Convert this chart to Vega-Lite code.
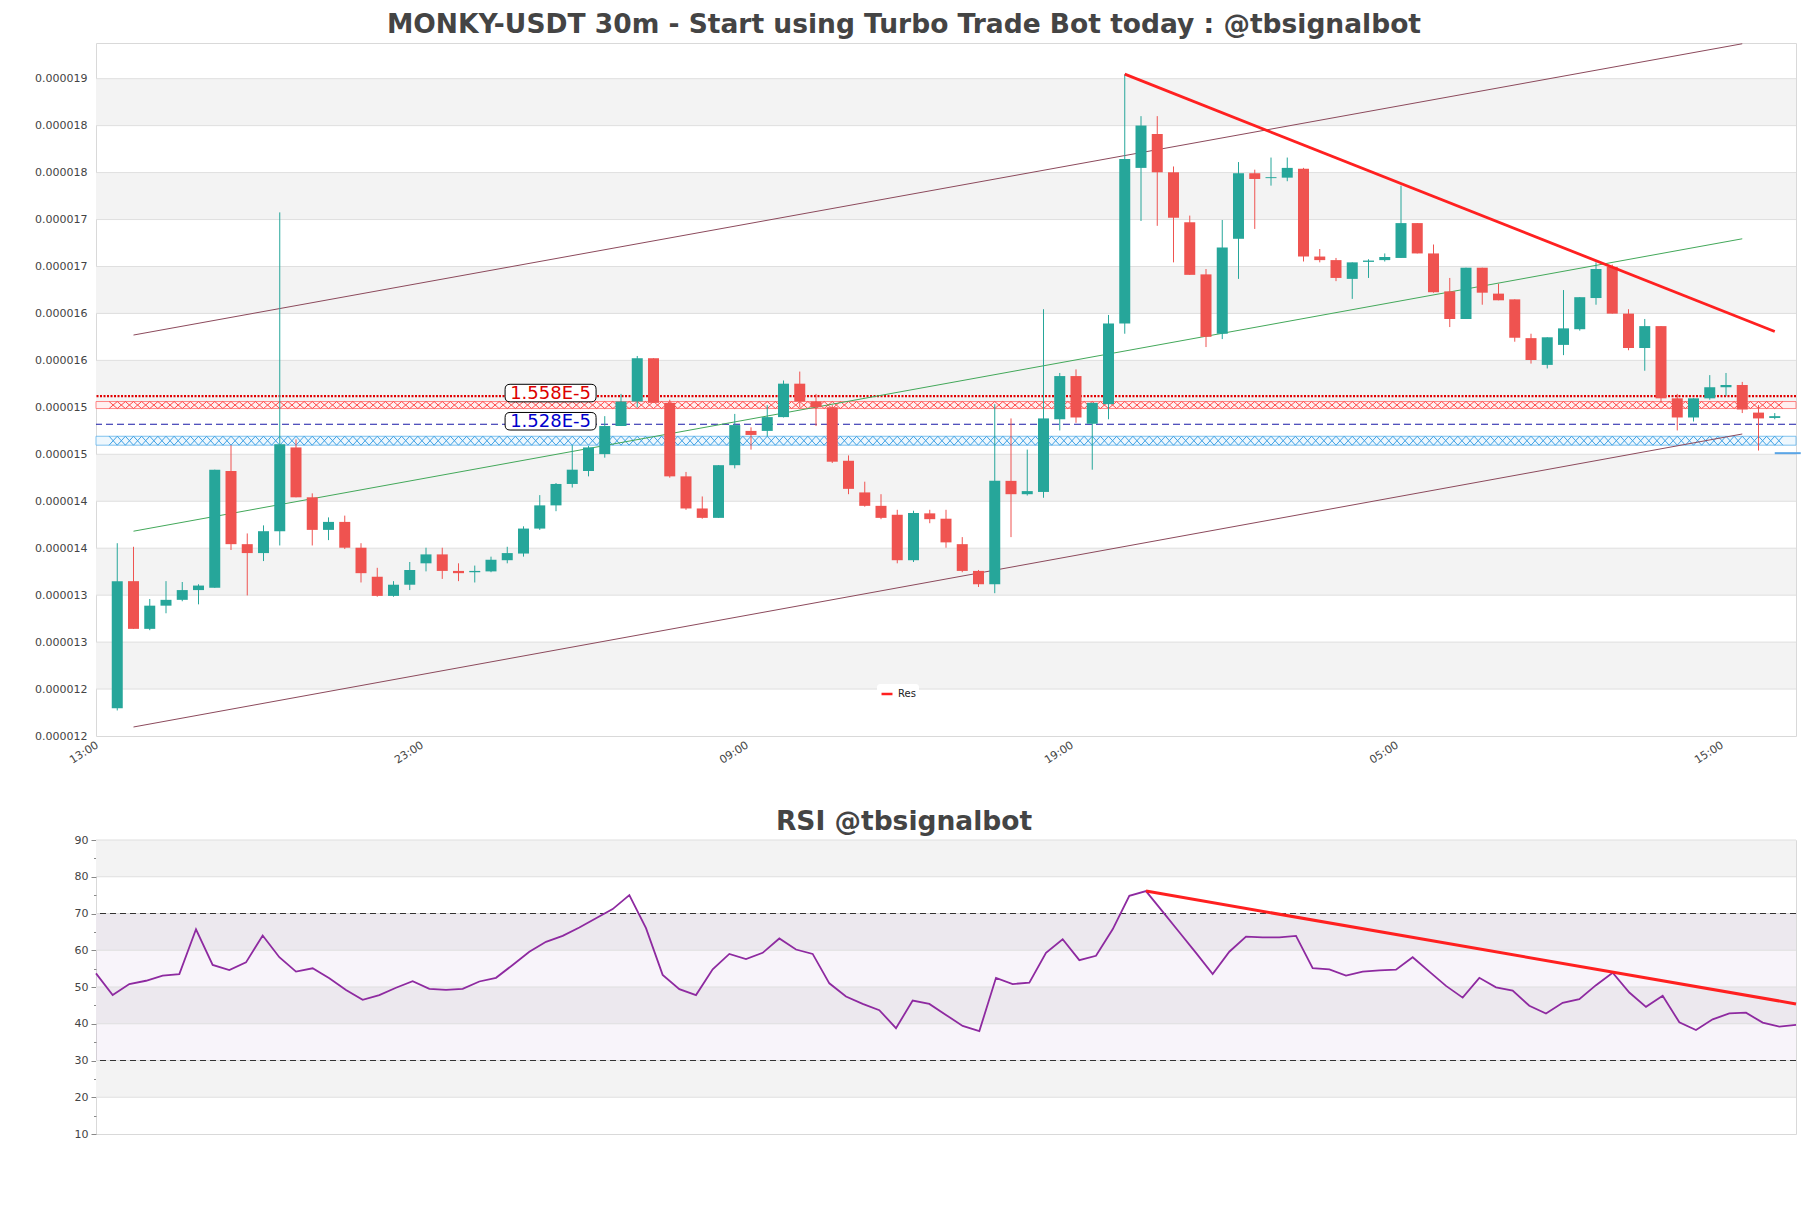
{
"$schema": "https://vega.github.io/schema/vega-lite/v6.json",
"padding": {"left": 33, "top": 11, "right": 4, "bottom": 4},
"spacing": 42,
"config": {
  "font": "DejaVu Sans",
  "view": {"stroke": "#d9d9d9"},
  "axis": {"labelFont": "DejaVu Sans", "labelColor": "#444444", "domain": false, "grid": false, "title": null},
  "title": {"font": "DejaVu Sans", "fontSize": 26.5, "fontWeight": "bold", "color": "#444444", "anchor": "middle", "dx": -42, "offset": 3.5}
},
"datasets": {
  "candles": [
    {"t":"2024-03-04T13:30","o":1.2256e-5,"h":1.4013e-5,"l":1.2232e-5,"c":1.3609e-5,"rsi":53.7},
    {"t":"2024-03-04T14:00","o":1.3609e-5,"h":1.3975e-5,"l":1.3101e-5,"c":1.3101e-5,"rsi":47.8},
    {"t":"2024-03-04T14:30","o":1.3101e-5,"h":1.3419e-5,"l":1.3087e-5,"c":1.3348e-5,"rsi":50.8},
    {"t":"2024-03-04T15:00","o":1.3348e-5,"h":1.3609e-5,"l":1.3267e-5,"c":1.3410e-5,"rsi":51.7},
    {"t":"2024-03-04T15:30","o":1.3410e-5,"h":1.3600e-5,"l":1.3395e-5,"c":1.3514e-5,"rsi":53.1},
    {"t":"2024-03-04T16:00","o":1.3514e-5,"h":1.3576e-5,"l":1.3362e-5,"c":1.3562e-5,"rsi":53.5},
    {"t":"2024-03-04T16:30","o":1.3538e-5,"h":1.4796e-5,"l":1.3538e-5,"c":1.4796e-5,"rsi":65.7},
    {"t":"2024-03-04T17:00","o":1.4782e-5,"h":1.5057e-5,"l":1.3941e-5,"c":1.4003e-5,"rsi":56.0},
    {"t":"2024-03-04T17:30","o":1.4003e-5,"h":1.4117e-5,"l":1.3457e-5,"c":1.3908e-5,"rsi":54.6},
    {"t":"2024-03-04T18:00","o":1.3908e-5,"h":1.4203e-5,"l":1.3823e-5,"c":1.4141e-5,"rsi":56.7},
    {"t":"2024-03-04T18:30","o":1.4141e-5,"h":1.7536e-5,"l":1.3989e-5,"c":1.5067e-5,"rsi":64.0},
    {"t":"2024-03-04T19:00","o":1.5033e-5,"h":1.5119e-5,"l":1.4502e-5,"c":1.4502e-5,"rsi":58.1},
    {"t":"2024-03-04T19:30","o":1.4502e-5,"h":1.4544e-5,"l":1.3989e-5,"c":1.4155e-5,"rsi":54.2},
    {"t":"2024-03-04T20:00","o":1.4155e-5,"h":1.4288e-5,"l":1.4046e-5,"c":1.4240e-5,"rsi":55.1},
    {"t":"2024-03-04T20:30","o":1.4240e-5,"h":1.4307e-5,"l":1.3951e-5,"c":1.3965e-5,"rsi":52.4},
    {"t":"2024-03-04T21:00","o":1.3965e-5,"h":1.4013e-5,"l":1.3595e-5,"c":1.3694e-5,"rsi":49.2},
    {"t":"2024-03-04T21:30","o":1.3656e-5,"h":1.3751e-5,"l":1.3443e-5,"c":1.3452e-5,"rsi":46.5},
    {"t":"2024-03-04T22:00","o":1.3452e-5,"h":1.3609e-5,"l":1.3443e-5,"c":1.3571e-5,"rsi":47.8},
    {"t":"2024-03-04T22:30","o":1.3571e-5,"h":1.3813e-5,"l":1.3514e-5,"c":1.3728e-5,"rsi":49.8},
    {"t":"2024-03-04T23:00","o":1.3799e-5,"h":1.3965e-5,"l":1.3713e-5,"c":1.3894e-5,"rsi":51.6},
    {"t":"2024-03-04T23:30","o":1.3894e-5,"h":1.3965e-5,"l":1.3633e-5,"c":1.3718e-5,"rsi":49.5},
    {"t":"2024-03-05T00:00","o":1.3718e-5,"h":1.3799e-5,"l":1.3609e-5,"c":1.3694e-5,"rsi":49.2},
    {"t":"2024-03-05T00:30","o":1.3704e-5,"h":1.3775e-5,"l":1.3595e-5,"c":1.3718e-5,"rsi":49.5},
    {"t":"2024-03-05T01:00","o":1.3713e-5,"h":1.3870e-5,"l":1.3704e-5,"c":1.3837e-5,"rsi":51.5},
    {"t":"2024-03-05T01:30","o":1.3832e-5,"h":1.3975e-5,"l":1.3799e-5,"c":1.3908e-5,"rsi":52.5},
    {"t":"2024-03-05T02:00","o":1.3903e-5,"h":1.4193e-5,"l":1.3870e-5,"c":1.4169e-5,"rsi":56.0},
    {"t":"2024-03-05T02:30","o":1.4169e-5,"h":1.4525e-5,"l":1.4155e-5,"c":1.4416e-5,"rsi":59.6},
    {"t":"2024-03-05T03:00","o":1.4416e-5,"h":1.4654e-5,"l":1.4354e-5,"c":1.4644e-5,"rsi":62.3},
    {"t":"2024-03-05T03:30","o":1.4644e-5,"h":1.5057e-5,"l":1.4606e-5,"c":1.4796e-5,"rsi":63.9},
    {"t":"2024-03-05T04:00","o":1.4782e-5,"h":1.5048e-5,"l":1.4725e-5,"c":1.5033e-5,"rsi":66.2},
    {"t":"2024-03-05T04:30","o":1.4962e-5,"h":1.5366e-5,"l":1.4924e-5,"c":1.5261e-5,"rsi":68.7},
    {"t":"2024-03-05T05:00","o":1.5261e-5,"h":1.5603e-5,"l":1.5261e-5,"c":1.5522e-5,"rsi":71.2},
    {"t":"2024-03-05T05:30","o":1.5522e-5,"h":1.6007e-5,"l":1.5461e-5,"c":1.5983e-5,"rsi":75.0},
    {"t":"2024-03-05T06:00","o":1.5983e-5,"h":1.5983e-5,"l":1.5508e-5,"c":1.5508e-5,"rsi":66.0},
    {"t":"2024-03-05T06:30","o":1.5508e-5,"h":1.5541e-5,"l":1.4711e-5,"c":1.4725e-5,"rsi":53.3},
    {"t":"2024-03-05T07:00","o":1.4725e-5,"h":1.4772e-5,"l":1.4369e-5,"c":1.4383e-5,"rsi":49.4},
    {"t":"2024-03-05T07:30","o":1.4383e-5,"h":1.4511e-5,"l":1.4274e-5,"c":1.4283e-5,"rsi":47.8},
    {"t":"2024-03-05T08:00","o":1.4283e-5,"h":1.4844e-5,"l":1.4283e-5,"c":1.4844e-5,"rsi":54.8},
    {"t":"2024-03-05T08:30","o":1.4844e-5,"h":1.5390e-5,"l":1.4810e-5,"c":1.5271e-5,"rsi":59.0},
    {"t":"2024-03-05T09:00","o":1.5209e-5,"h":1.5247e-5,"l":1.5010e-5,"c":1.5166e-5,"rsi":57.6},
    {"t":"2024-03-05T09:30","o":1.5209e-5,"h":1.5484e-5,"l":1.5152e-5,"c":1.5356e-5,"rsi":59.3},
    {"t":"2024-03-05T10:00","o":1.5356e-5,"h":1.5746e-5,"l":1.5352e-5,"c":1.5712e-5,"rsi":63.2},
    {"t":"2024-03-05T10:30","o":1.5712e-5,"h":1.5841e-5,"l":1.5461e-5,"c":1.5522e-5,"rsi":60.2},
    {"t":"2024-03-05T11:00","o":1.5522e-5,"h":1.5603e-5,"l":1.5261e-5,"c":1.5461e-5,"rsi":59.0},
    {"t":"2024-03-05T11:30","o":1.5461e-5,"h":1.5484e-5,"l":1.4867e-5,"c":1.4881e-5,"rsi":51.0},
    {"t":"2024-03-05T12:00","o":1.4891e-5,"h":1.4948e-5,"l":1.4535e-5,"c":1.4592e-5,"rsi":47.4},
    {"t":"2024-03-05T12:30","o":1.4554e-5,"h":1.4668e-5,"l":1.4402e-5,"c":1.4411e-5,"rsi":45.4},
    {"t":"2024-03-05T13:00","o":1.4411e-5,"h":1.4535e-5,"l":1.4269e-5,"c":1.4283e-5,"rsi":43.7},
    {"t":"2024-03-05T13:30","o":1.4316e-5,"h":1.4369e-5,"l":1.3799e-5,"c":1.3832e-5,"rsi":38.8},
    {"t":"2024-03-05T14:00","o":1.3832e-5,"h":1.4359e-5,"l":1.3813e-5,"c":1.4335e-5,"rsi":46.3},
    {"t":"2024-03-05T14:30","o":1.4331e-5,"h":1.4369e-5,"l":1.4226e-5,"c":1.4269e-5,"rsi":45.4},
    {"t":"2024-03-05T15:00","o":1.4274e-5,"h":1.4369e-5,"l":1.3965e-5,"c":1.4022e-5,"rsi":42.4},
    {"t":"2024-03-05T15:30","o":1.4003e-5,"h":1.4078e-5,"l":1.3704e-5,"c":1.3718e-5,"rsi":39.4},
    {"t":"2024-03-05T16:00","o":1.3718e-5,"h":1.3728e-5,"l":1.3547e-5,"c":1.3576e-5,"rsi":38.0},
    {"t":"2024-03-05T16:30","o":1.3576e-5,"h":1.5494e-5,"l":1.3481e-5,"c":1.4677e-5,"rsi":52.5},
    {"t":"2024-03-05T17:00","o":1.4677e-5,"h":1.5342e-5,"l":1.4078e-5,"c":1.4535e-5,"rsi":50.8},
    {"t":"2024-03-05T17:30","o":1.4535e-5,"h":1.5010e-5,"l":1.4521e-5,"c":1.4568e-5,"rsi":51.2},
    {"t":"2024-03-05T18:00","o":1.4559e-5,"h":1.6505e-5,"l":1.4497e-5,"c":1.5342e-5,"rsi":59.3},
    {"t":"2024-03-05T18:30","o":1.5333e-5,"h":1.5826e-5,"l":1.5214e-5,"c":1.5793e-5,"rsi":63.0},
    {"t":"2024-03-05T19:00","o":1.5793e-5,"h":1.5864e-5,"l":1.5295e-5,"c":1.5352e-5,"rsi":57.3},
    {"t":"2024-03-05T19:30","o":1.5285e-5,"h":1.5508e-5,"l":1.4796e-5,"c":1.5508e-5,"rsi":58.5},
    {"t":"2024-03-05T20:00","o":1.5494e-5,"h":1.6444e-5,"l":1.5333e-5,"c":1.6353e-5,"rsi":65.7},
    {"t":"2024-03-05T20:30","o":1.6353e-5,"h":1.9008e-5,"l":1.6244e-5,"c":1.8105e-5,"rsi":74.8},
    {"t":"2024-03-05T21:00","o":1.8010e-5,"h":1.8561e-5,"l":1.7445e-5,"c":1.8461e-5,"rsi":76.1},
    {"t":"2024-03-05T21:30","o":1.8371e-5,"h":1.8561e-5,"l":1.7393e-5,"c":1.7963e-5,"rsi":70.5},
    {"t":"2024-03-05T22:00","o":1.7963e-5,"h":1.8025e-5,"l":1.7004e-5,"c":1.7479e-5,"rsi":64.9},
    {"t":"2024-03-05T22:30","o":1.7431e-5,"h":1.7502e-5,"l":1.6871e-5,"c":1.6871e-5,"rsi":59.3},
    {"t":"2024-03-05T23:00","o":1.6876e-5,"h":1.6933e-5,"l":1.6102e-5,"c":1.6211e-5,"rsi":53.5},
    {"t":"2024-03-05T23:30","o":1.6244e-5,"h":1.7455e-5,"l":1.6187e-5,"c":1.7161e-5,"rsi":59.6},
    {"t":"2024-03-06T00:00","o":1.7255e-5,"h":1.8072e-5,"l":1.6828e-5,"c":1.7953e-5,"rsi":63.7},
    {"t":"2024-03-06T00:30","o":1.7953e-5,"h":1.7991e-5,"l":1.7360e-5,"c":1.7892e-5,"rsi":63.5},
    {"t":"2024-03-06T01:00","o":1.7901e-5,"h":1.8120e-5,"l":1.7821e-5,"c":1.7911e-5,"rsi":63.5},
    {"t":"2024-03-06T01:30","o":1.7906e-5,"h":1.8120e-5,"l":1.7868e-5,"c":1.8010e-5,"rsi":63.9},
    {"t":"2024-03-06T02:00","o":1.8001e-5,"h":1.8010e-5,"l":1.7013e-5,"c":1.7066e-5,"rsi":55.1},
    {"t":"2024-03-06T02:30","o":1.7066e-5,"h":1.7146e-5,"l":1.7004e-5,"c":1.7028e-5,"rsi":54.8},
    {"t":"2024-03-06T03:00","o":1.7028e-5,"h":1.7051e-5,"l":1.6804e-5,"c":1.6838e-5,"rsi":53.1},
    {"t":"2024-03-06T03:30","o":1.6828e-5,"h":1.7004e-5,"l":1.6615e-5,"c":1.7004e-5,"rsi":54.2},
    {"t":"2024-03-06T04:00","o":1.7009e-5,"h":1.7037e-5,"l":1.6838e-5,"c":1.7023e-5,"rsi":54.5},
    {"t":"2024-03-06T04:30","o":1.7028e-5,"h":1.7099e-5,"l":1.7013e-5,"c":1.7061e-5,"rsi":54.7},
    {"t":"2024-03-06T05:00","o":1.7051e-5,"h":1.7821e-5,"l":1.7051e-5,"c":1.7422e-5,"rsi":58.1},
    {"t":"2024-03-06T05:30","o":1.7422e-5,"h":1.7422e-5,"l":1.7099e-5,"c":1.7099e-5,"rsi":54.2},
    {"t":"2024-03-06T06:00","o":1.7099e-5,"h":1.7194e-5,"l":1.6681e-5,"c":1.6686e-5,"rsi":50.3},
    {"t":"2024-03-06T06:30","o":1.6695e-5,"h":1.6838e-5,"l":1.6315e-5,"c":1.6401e-5,"rsi":47.1},
    {"t":"2024-03-06T07:00","o":1.6401e-5,"h":1.6947e-5,"l":1.6401e-5,"c":1.6947e-5,"rsi":52.5},
    {"t":"2024-03-06T07:30","o":1.6947e-5,"h":1.6947e-5,"l":1.6553e-5,"c":1.6681e-5,"rsi":49.9},
    {"t":"2024-03-06T08:00","o":1.6671e-5,"h":1.6776e-5,"l":1.6600e-5,"c":1.6600e-5,"rsi":49.0},
    {"t":"2024-03-06T08:30","o":1.6610e-5,"h":1.6610e-5,"l":1.6159e-5,"c":1.6201e-5,"rsi":44.9},
    {"t":"2024-03-06T09:00","o":1.6197e-5,"h":1.6244e-5,"l":1.5926e-5,"c":1.5964e-5,"rsi":42.8},
    {"t":"2024-03-06T09:30","o":1.5912e-5,"h":1.6206e-5,"l":1.5874e-5,"c":1.6206e-5,"rsi":45.7},
    {"t":"2024-03-06T10:00","o":1.6125e-5,"h":1.6709e-5,"l":1.6016e-5,"c":1.6301e-5,"rsi":46.7},
    {"t":"2024-03-06T10:30","o":1.6292e-5,"h":1.6633e-5,"l":1.6277e-5,"c":1.6633e-5,"rsi":50.5},
    {"t":"2024-03-06T11:00","o":1.6624e-5,"h":1.7004e-5,"l":1.6553e-5,"c":1.6933e-5,"rsi":53.9},
    {"t":"2024-03-06T11:30","o":1.6956e-5,"h":1.6980e-5,"l":1.6458e-5,"c":1.6458e-5,"rsi":48.5},
    {"t":"2024-03-06T12:00","o":1.6458e-5,"h":1.6505e-5,"l":1.6068e-5,"c":1.6092e-5,"rsi":44.6},
    {"t":"2024-03-06T12:30","o":1.6092e-5,"h":1.6401e-5,"l":1.5850e-5,"c":1.6325e-5,"rsi":47.6},
    {"t":"2024-03-06T13:00","o":1.6325e-5,"h":1.6325e-5,"l":1.5508e-5,"c":1.5556e-5,"rsi":40.4},
    {"t":"2024-03-06T13:30","o":1.5556e-5,"h":1.5603e-5,"l":1.5214e-5,"c":1.5352e-5,"rsi":38.3},
    {"t":"2024-03-06T14:00","o":1.5352e-5,"h":1.5556e-5,"l":1.5309e-5,"c":1.5556e-5,"rsi":41.2},
    {"t":"2024-03-06T14:30","o":1.5556e-5,"h":1.5803e-5,"l":1.5541e-5,"c":1.5674e-5,"rsi":42.8},
    {"t":"2024-03-06T15:00","o":1.5674e-5,"h":1.5826e-5,"l":1.5579e-5,"c":1.5698e-5,"rsi":43.0},
    {"t":"2024-03-06T15:30","o":1.5698e-5,"h":1.5731e-5,"l":1.5399e-5,"c":1.5437e-5,"rsi":40.3},
    {"t":"2024-03-06T16:00","o":1.5404e-5,"h":1.5484e-5,"l":1.5000e-5,"c":1.5342e-5,"rsi":39.2},
    {"t":"2024-03-06T16:30","o":1.5347e-5,"h":1.5399e-5,"l":1.5333e-5,"c":1.5366e-5,"rsi":39.7}
  ],
  "mbands": [
    {"lo":1.246e-5,"hi":1.296e-5},{"lo":1.346e-5,"hi":1.396e-5},{"lo":1.446e-5,"hi":1.496e-5},
    {"lo":1.546e-5,"hi":1.596e-5},{"lo":1.646e-5,"hi":1.696e-5},{"lo":1.746e-5,"hi":1.796e-5},{"lo":1.846e-5,"hi":1.896e-5}
  ],
  "zones": [
    {"name":"res","lo":1.5447e-5,"hi":1.5522e-5},
    {"name":"sup","lo":1.5057e-5,"hi":1.5152e-5}
  ],
  "levels": [
    {"name":"res","v":1.558e-5,"label":"1.558E-5","t":"2024-03-05T02:50"},
    {"name":"sup","v":1.528e-5,"label":"1.528E-5","t":"2024-03-05T02:50"}
  ],
  "trend": [
    {"name":"upper","t":"2024-03-04T14:00","v":1.6230e-5},{"name":"upper","t":"2024-03-06T15:30","v":1.9332e-5},
    {"name":"lower","t":"2024-03-04T14:00","v":1.2056e-5},{"name":"lower","t":"2024-03-06T15:30","v":1.5176e-5},
    {"name":"mid","t":"2024-03-04T14:00","v":1.4141e-5},{"name":"mid","t":"2024-03-06T15:30","v":1.7255e-5}
  ],
  "res": [
    {"name":"Res","t":"2024-03-05T20:30","v":1.9008e-5},{"name":"Res","t":"2024-03-06T16:30","v":1.6268e-5}
  ],
  "tail": [{"t":"2024-03-06T16:30","t2":"2024-03-06T17:18","v":1.4972e-5}],
  "rbands": [{"lo":20,"hi":30},{"lo":40,"hi":50},{"lo":60,"hi":70},{"lo":80,"hi":90}],
  "rzone": [{"lo":30,"hi":70}],
  "rtrend": [{"t":"2024-03-05T21:00","v":76.1},{"t":"2024-03-06T16:30","v":45.4}]
},
"vconcat": [
  {
    "width": 1700, "height": 693,
    "title": {"text": "MONKY-USDT 30m - Start using Turbo Trade Bot today : @tbsignalbot"},
    "encoding": {
      "x": {"field": "t", "type": "temporal",
        "scale": {"domain": [{"year":2024,"month":3,"date":4,"hours":13},{"year":2024,"month":3,"date":6,"hours":17}]},
        "axis": {"values": [{"year":2024,"month":3,"date":4,"hours":13},{"year":2024,"month":3,"date":4,"hours":23},{"year":2024,"month":3,"date":5,"hours":9},{"year":2024,"month":3,"date":5,"hours":19},{"year":2024,"month":3,"date":6,"hours":5},{"year":2024,"month":3,"date":6,"hours":15}],
          "format": "%H:%M", "labelAngle": -32, "labelAlign": "right", "labelBaseline": "top", "labelFontSize": 11, "ticks": false, "labelPadding": 3, "labelOffset": -7}
      }
    },
    "layer": [
      {"data": {"name": "mbands"}, "mark": {"type": "rect", "color": "#f3f3f3"},
       "encoding": {"x": null, "y": {"field": "lo", "type": "quantitative",
          "scale": {"domain": [1.196e-5, 1.934e-5], "zero": false, "nice": false},
          "axis": {"values": [1.196e-5,1.246e-5,1.296e-5,1.346e-5,1.396e-5,1.446e-5,1.496e-5,1.546e-5,1.596e-5,1.646e-5,1.696e-5,1.746e-5,1.796e-5,1.846e-5,1.896e-5],
                   "format": ".6f", "ticks": false, "labelPadding": 9, "labelFontSize": 11, "labelOverlap": false, "minExtent": 62, "maxExtent": 62}},
        "y2": {"field": "hi"}}},
      {"data": {"name": "mbands"}, "mark": {"type": "rule", "color": "#dfdfdf", "strokeWidth": 1},
       "encoding": {"x": null, "y": {"field": "lo", "type": "quantitative"}}},
      {"data": {"name": "mbands"}, "mark": {"type": "rule", "color": "#dfdfdf", "strokeWidth": 1},
       "encoding": {"x": null, "y": {"field": "hi", "type": "quantitative"}}},
      {"data": {"name": "zones"}, "mark": {"type": "rect", "strokeWidth": 0.8},
       "encoding": {"x": null, "y": {"field": "lo", "type": "quantitative"}, "y2": {"field": "hi"},
        "fill": {"condition": {"test": "datum.name == 'res'", "value": "#fff0f0"}, "value": "#eef7fd"},
        "stroke": {"condition": {"test": "datum.name == 'res'", "value": "#ff6a6a"}, "value": "#5fb2ea"}}},
      {"data": {"name": "candles"},
       "mark": {"type": "point", "shape": "M-1,-0.43L0,0.43M-1,0.43L0,-0.43M0,-0.43L1,0.43M0,0.43L1,-0.43", "size": 267, "filled": false, "stroke": "#ff4a4a", "strokeWidth": 1, "opacity": 1},
       "encoding": {"y": {"datum": 1.54845e-5, "type": "quantitative"}}},
      {"data": {"name": "candles"},
       "mark": {"type": "point", "shape": "M-1,-0.55L0,0.55M-1,0.55L0,-0.55M0,-0.55L1,0.55M0,0.55L1,-0.55", "size": 267, "filled": false, "stroke": "#3fa2e6", "strokeWidth": 1, "opacity": 1},
       "encoding": {"y": {"datum": 1.51045e-5, "type": "quantitative"}}},
      {"data": {"name": "levels"}, "transform": [{"filter": "datum.name == 'res'"}],
       "mark": {"type": "rule", "color": "#e00000", "strokeWidth": 2.2, "strokeDash": [2, 1.5]},
       "encoding": {"x": null, "y": {"field": "v", "type": "quantitative"}}},
      {"data": {"name": "levels"}, "transform": [{"filter": "datum.name == 'sup'"}],
       "mark": {"type": "rule", "color": "#1a1aa6", "strokeWidth": 1.2, "strokeDash": [7, 4]},
       "encoding": {"x": null, "y": {"field": "v", "type": "quantitative"}}},
      {"data": {"name": "trend"}, "mark": {"type": "line", "strokeWidth": 1},
       "encoding": {"y": {"field": "v", "type": "quantitative"},
        "detail": {"field": "name"},
        "color": {"field": "name", "type": "nominal", "scale": {"domain": ["upper","lower","mid"], "range": ["#8c4a5c","#8c4a5c","#43a85a"]}, "legend": null}}},
      {"data": {"name": "candles"}, "mark": {"type": "rule", "strokeWidth": 1},
       "encoding": {"y": {"field": "l", "type": "quantitative"}, "y2": {"field": "h"},
        "color": {"condition": {"test": "datum.c >= datum.o", "value": "#26a69a"}, "value": "#ef5350"}}},
      {"data": {"name": "candles"}, "mark": {"type": "bar", "width": 11},
       "encoding": {"y": {"field": "o", "type": "quantitative"}, "y2": {"field": "c"},
        "color": {"condition": {"test": "datum.c >= datum.o", "value": "#26a69a"}, "value": "#ef5350"}}},
      {"data": {"name": "res"}, "mark": {"type": "line", "strokeWidth": 2.8},
       "encoding": {"y": {"field": "v", "type": "quantitative"},
        "color": {"field": "name", "type": "nominal", "scale": {"domain": ["Res"], "range": ["#ff2020"]},
          "legend": {"title": null, "orient": "none", "legendX": 781, "legendY": 641, "symbolType": "stroke", "symbolStrokeWidth": 2.5, "symbolSize": 120, "labelFontSize": 10, "labelColor": "#222", "fillColor": "white", "padding": 3, "cornerRadius": 3}}}},
      {"data": {"name": "tail"}, "mark": {"type": "rule", "color": "#5aa5e6", "strokeWidth": 2, "clip": false},
       "encoding": {"x2": {"field": "t2"}, "y": {"field": "v", "type": "quantitative"}}},
      {"data": {"name": "levels"},
       "mark": {"type": "point", "shape": "M-0.89,-0.193L0.89,-0.193Q1,-0.193 1,-0.083L1,0.083Q1,0.193 0.89,0.193L-0.89,0.193Q-1,0.193 -1,0.083L-1,-0.083Q-1,-0.193 -0.89,-0.193Z", "size": 8281, "filled": true, "fill": "white", "fillOpacity": 1, "opacity": 1, "stroke": "black", "strokeWidth": 1, "yOffset": -3},
       "encoding": {"y": {"field": "v", "type": "quantitative"}}},
      {"data": {"name": "levels"},
       "mark": {"type": "text", "fontSize": 18, "align": "center", "baseline": "middle", "yOffset": -2},
       "encoding": {"y": {"field": "v", "type": "quantitative"}, "text": {"field": "label"},
        "color": {"condition": {"test": "datum.name == 'res'", "value": "#dd0000"}, "value": "#0000cc"}}}
    ],
    "resolve": {"scale": {"color": "independent"}}
  },
  {
    "width": 1700, "height": 294,
    "title": {"text": "RSI @tbsignalbot", "offset": -1.1},
    "encoding": {
      "x": {"field": "t", "type": "temporal",
        "scale": {"domain": [{"year":2024,"month":3,"date":4,"hours":13,"minutes":30},{"year":2024,"month":3,"date":6,"hours":16,"minutes":30}]},
        "axis": null},
      "y": {"type": "quantitative",
        "scale": {"domain": [10, 90], "nice": false, "zero": false},
        "axis": {"values": [10,15,20,25,30,35,40,45,50,55,60,65,70,75,80,85,90], "format": "d", "labelOverlap": false,
          "labelExpr": "datum.value % 10 == 0 ? datum.label : ''",
          "tickSize": {"condition": {"test": "datum.value % 10 == 0", "value": 5}, "value": 2.5},
          "tickColor": "#888888", "labelPadding": 3, "labelFontSize": 11, "minExtent": 62, "maxExtent": 62}}
    },
    "layer": [
      {"data": {"name": "rbands"}, "mark": {"type": "rect", "color": "#f3f3f3"},
       "encoding": {"x": null, "y": {"field": "lo", "type": "quantitative"}, "y2": {"field": "hi"}}},
      {"data": {"name": "rzone"}, "mark": {"type": "rect", "color": "#a060b8", "opacity": 0.07},
       "encoding": {"x": null, "y": {"field": "lo", "type": "quantitative"}, "y2": {"field": "hi"}}},
      {"data": {"name": "rbands"}, "mark": {"type": "rule", "color": "#dfdfdf", "strokeWidth": 1},
       "encoding": {"x": null, "y": {"field": "lo", "type": "quantitative"}}},
      {"data": {"name": "rbands"}, "mark": {"type": "rule", "color": "#dfdfdf", "strokeWidth": 1},
       "encoding": {"x": null, "y": {"field": "hi", "type": "quantitative"}}},
      {"data": {"name": "rzone"}, "mark": {"type": "rule", "color": "#333333", "strokeWidth": 1.2, "strokeDash": [6, 4]},
       "encoding": {"x": null, "y": {"field": "lo", "type": "quantitative"}}},
      {"data": {"name": "rzone"}, "mark": {"type": "rule", "color": "#333333", "strokeWidth": 1.2, "strokeDash": [6, 4]},
       "encoding": {"x": null, "y": {"field": "hi", "type": "quantitative"}}},
      {"data": {"name": "candles"}, "mark": {"type": "line", "color": "#8e2aa0", "strokeWidth": 1.8},
       "encoding": {"y": {"field": "rsi", "type": "quantitative"}}},
      {"data": {"name": "rtrend"}, "mark": {"type": "line", "color": "#ff2020", "strokeWidth": 3},
       "encoding": {"y": {"field": "v", "type": "quantitative"}}}
    ]
  }
]
}
